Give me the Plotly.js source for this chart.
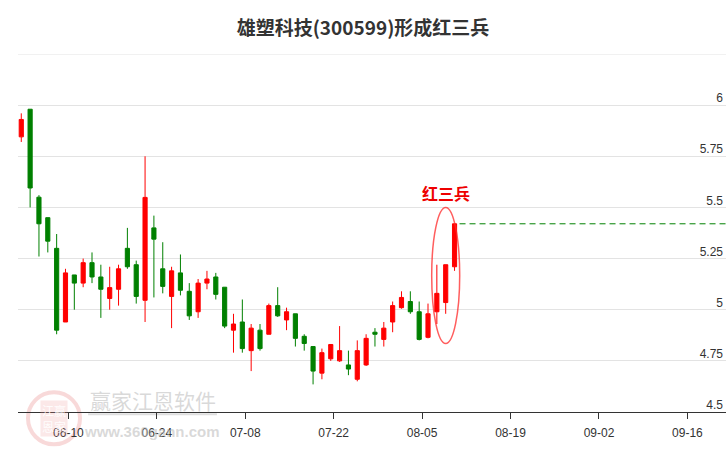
<!DOCTYPE html>
<html>
<head>
<meta charset="utf-8">
<script src="https://cdn.plot.ly/plotly-3.0.1.min.js"></script>
<style>html,body{margin:0;padding:0;background:#fff;}#chart{width:726px;height:450px;}</style>
</head>
<body>
<div id="chart"></div>
<script>
// Trading days (2019), one candle per day
const dates = ['2019-05-31','2019-06-03','2019-06-04','2019-06-05','2019-06-06','2019-06-10','2019-06-11','2019-06-12','2019-06-13','2019-06-14',
  '2019-06-17','2019-06-18','2019-06-19','2019-06-20','2019-06-21','2019-06-24','2019-06-25','2019-06-26','2019-06-27','2019-06-28',
  '2019-07-01','2019-07-02','2019-07-03','2019-07-04','2019-07-05','2019-07-08','2019-07-09','2019-07-10','2019-07-11','2019-07-12',
  '2019-07-15','2019-07-16','2019-07-17','2019-07-18','2019-07-19','2019-07-22','2019-07-23','2019-07-24','2019-07-25','2019-07-26',
  '2019-07-29','2019-07-30','2019-07-31','2019-08-01','2019-08-02','2019-08-05','2019-08-06','2019-08-07','2019-08-08','2019-08-09'];
const openP  = [5.845,5.98,5.55,5.45,5.30,4.94,5.17,5.13,5.23,5.16,5.055,5.10,5.30,5.22,5.046,5.40,5.20,5.065,5.18,5.09,4.99,5.13,5.16,5.11,4.90,4.94,4.80,4.90,4.88,5.02,4.95,4.98,4.87,4.82,4.69,4.76,4.75,4.73,4.66,4.73,4.89,4.855,4.94,5.01,5.04,4.99,4.865,4.99,5.035,5.21];
const highP  = [5.96,5.98,5.56,5.45,5.37,5.20,5.17,5.25,5.28,5.22,5.21,5.22,5.40,5.24,5.75,5.46,5.33,5.21,5.27,5.13,5.15,5.19,5.18,5.11,4.98,5.05,4.93,4.93,5.03,5.11,5.01,4.98,4.88,4.82,4.81,4.83,4.92,4.80,4.85,4.88,4.91,4.94,5.04,5.09,5.09,5.04,5.03,5.22,5.22,5.42];
const lowP   = [5.82,5.50,5.26,5.28,4.88,4.94,5.00,5.11,5.13,4.96,5.00,5.02,5.20,5.03,4.94,5.06,5.08,4.91,5.07,4.95,4.96,5.10,5.05,4.91,4.79,4.79,4.70,4.80,4.88,4.965,4.90,4.82,4.80,4.635,4.66,4.75,4.745,4.68,4.65,4.725,4.82,4.82,4.89,5.005,4.98,4.85,4.86,4.93,4.98,5.19];
const closeP = [5.93,5.595,5.42,5.335,4.90,5.18,5.13,5.23,5.16,5.10,5.108,5.20,5.21,5.065,5.549,5.345,5.114,5.19,5.095,4.97,5.13,5.15,5.075,4.92,4.93,4.81,4.91,4.81,5.02,4.97,4.99,4.86,4.835,4.70,4.79,4.83,4.80,4.71,4.80,4.86,4.88,4.91,5.02,5.06,4.99,4.855,4.98,5.08,5.22,5.42];
const holidays = ['2019-06-07'];
const tickDates  = ['2019-06-10','2019-06-24','2019-07-08','2019-07-22','2019-08-05','2019-08-19','2019-09-02','2019-09-16'];
const tickLabels = ['06-10','06-24','07-08','07-22','08-05','08-19','09-02','09-16'];
const yTicks  = [4.5,4.75,5,5.25,5.5,5.75,6];
const yLabels = ['4.5','4.75','5','5.25','5.5','5.75','6'];
const yTop = 6.25;
const titleText = '雄塑科技(300599)形成红三兵';
const patternText = '红三兵';

const RED = '#ff0000', GREEN = '#008000';
const xs = dates.map(d => d + ' 12:00');
const n = dates.length;
const last3Low = Math.min(...lowP.slice(n-3));
const last3High = Math.max(...highP.slice(n-3));
const ellTop = last3High + 0.08;
const ellBot = last3Low - 0.095;

const trace = {
  type: 'candlestick', x: xs, open: openP, high: highP, low: lowP, close: closeP,
  increasing: {line: {color: RED, width: 1}, fillcolor: RED},
  decreasing: {line: {color: GREEN, width: 1}, fillcolor: GREEN},
  whiskerwidth: 0, hoverinfo: 'skip', showlegend: false
};

const wm = 'rgba(185,185,185,0.55)';
const layout = {
  width: 726, height: 450,
  margin: {l: 18, r: 0, t: 54, b: 38},
  paper_bgcolor: '#ffffff', plot_bgcolor: '#ffffff',
  boxgap: 0.33,
  showlegend: false,
  title: {text: titleText, x: 0.5, xref: 'container', xanchor: 'center', y: 0.938, yref: 'container', yanchor: 'middle',
    font: {family: '"Noto Sans CJK SC", sans-serif', size: 19, color: '#333333', weight: 'bold'}},
  xaxis: {
    type: 'date',
    range: ['2019-05-31 03:07', '2019-09-23 04:48'],
    rangebreaks: [{pattern: 'day of week', bounds: [6, 1]}, {values: holidays}],
    rangeslider: {visible: false},
    tickvals: tickDates.map(d => d + ' 20:00'), ticktext: tickLabels,
    showgrid: false, zeroline: false,
    showline: true, linecolor: '#333333', linewidth: 1,
    ticks: 'outside', ticklen: 6, tickcolor: '#333333', tickwidth: 1,
    ticklabelstandoff: 4,
    tickfont: {family: '"Liberation Sans", Arial, sans-serif', size: 12, color: '#333333'},
    fixedrange: true
  },
  yaxis: {
    range: [4.5, yTop], side: 'right',
    tickvals: yTicks, ticktext: yLabels,
    ticklabelposition: 'inside', ticklabelshift: -7, ticklabeloverflow: 'allow',
    ticks: '', showline: false, zeroline: false,
    showgrid: true, gridcolor: '#e3e3e3', gridwidth: 1,
    tickfont: {family: '"Liberation Sans", Arial, sans-serif', size: 12, color: '#333333'},
    fixedrange: true
  },
  shapes: [
    {type: 'line', xref: 'paper', yref: 'y', x0: 0, x1: 1, y0: yTop, y1: yTop, layer: 'below',
      line: {color: '#e3e3e3', width: 1}},
    {type: 'line', xref: 'x', yref: 'y', xsizemode: 'pixel', xanchor: xs[n-1], x0: 5, x1: 400,
      y0: closeP[n-1], y1: closeP[n-1], line: {color: GREEN, width: 1, dash: '6px,4px'}},
    {type: 'circle', xref: 'x', yref: 'y', xsizemode: 'pixel', xanchor: xs[n-2], x0: -14, x1: 14,
      y0: ellBot, y1: ellTop, line: {color: 'rgba(255,40,40,0.75)', width: 1.5}},
    {type: 'line', xref: 'paper', yref: 'paper', x0: 0.099, x1: 0.281, y0: -0.0064, y1: -0.0064, layer: 'below',
      line: {color: 'rgba(200,200,200,0.6)', width: 2}},
    {type: 'circle', xref: 'paper', yref: 'paper', x0: 0.0141, x1: 0.0876, y0: -0.0904, y1: 0.0552, layer: 'below',
      line: {color: 'rgba(230,120,120,0.28)', width: 4}}
  ],
  annotations: [
    {text: patternText, xref: 'x', yref: 'y', x: xs[n-2], y: ellTop, xanchor: 'center', yanchor: 'bottom', showarrow: false,
      font: {family: '"Noto Sans CJK SC", sans-serif', size: 16, color: '#ee0000', weight: 'bold'}},
    {text: '赢家江恩软件', xref: 'paper', yref: 'paper', x: 0.19, y: 0.0327, xanchor: 'center', yanchor: 'middle', showarrow: false,
      font: {family: '"Noto Sans CJK SC", sans-serif', size: 21, color: wm}},
    {text: 'www.360gann.com', xref: 'paper', yref: 'paper', x: 0.1886, y: -0.054, xanchor: 'center', yanchor: 'middle', showarrow: false,
      font: {family: '"Liberation Sans", Arial, sans-serif', size: 15, color: wm, weight: 'bold'}},
    {text: '江赢<br>恩家', xref: 'paper', yref: 'paper', x: 0.0508, y: -0.0176, xanchor: 'center', yanchor: 'middle', showarrow: false,
      bgcolor: 'rgba(235,150,150,0.22)',
      font: {family: '"Noto Sans CJK SC", sans-serif', size: 12, color: 'rgba(255,255,255,0.9)'}}
  ]
};

Plotly.newPlot('chart', [trace], layout, {displayModeBar: false, staticPlot: true});
</script>
</body>
</html>
